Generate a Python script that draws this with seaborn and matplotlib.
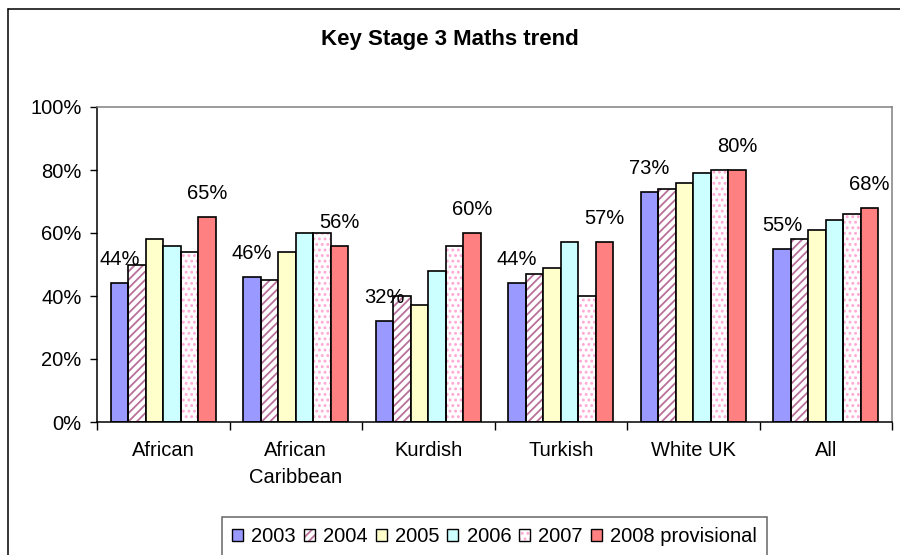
import matplotlib
matplotlib.use("Agg")
import matplotlib.pyplot as plt
from matplotlib.patches import Rectangle, Patch
from matplotlib.lines import Line2D
from matplotlib.legend_handler import HandlerTuple
import seaborn as sns
import pandas as pd

# ---- data ----
groups = ["African", "African\nCaribbean", "Kurdish", "Turkish", "White UK", "All"]
years = ["2003", "2004", "2005", "2006", "2007", "2008 provisional"]
v2003 = [44, 46, 32, 44, 73, 55]
v2004 = [50, 45, 40, 47, 74, 58]
v2005 = [58, 54, 37, 49, 76, 61]
v2006 = [56, 60, 48, 57, 79, 64]
v2007 = [54, 60, 56, 40, 80, 66]
v2008 = [65, 56, 60, 57, 80, 68]
yticks = [0, 20, 40, 60, 80, 100]

series = [v2003, v2004, v2005, v2006, v2007, v2008]
rows = []
for yr, vals in zip(years, series):
    for g, v in zip(groups, vals):
        rows.append({"group": g, "year": yr, "value": v})
df = pd.DataFrame(rows)

colors = ["#9999FF", "#FFFFFF", "#FFFFCC", "#CCFFFF", "#FFFFFF", "#FF8080"]
hatches = {1: ("////", "#B8709A"), 4: ("...", "#FFA8D4")}

sns.set_style("white")
plt.rcParams["font.family"] = ["Liberation Sans", "DejaVu Sans"]
plt.rcParams["hatch.linewidth"] = 1.3
plt.rcParams["text.color"] = "black"
plt.rcParams["xtick.color"] = "black"
plt.rcParams["ytick.color"] = "black"
plt.rcParams["xtick.labelcolor"] = "black"
plt.rcParams["ytick.labelcolor"] = "black"

FS = 14.5

fig = plt.figure(figsize=(9, 5.55), dpi=100)
ax = fig.add_axes([97 / 900, 1 - 422 / 555, (892 - 97) / 900, (422 - 107) / 555])

sns.barplot(data=df, x="group", y="value", hue="year", order=groups,
            hue_order=years, palette=colors, saturation=1, width=0.79,
            edgecolor="black", linewidth=1.2, legend=False, ax=ax)

# patterned fills under the outlined bars
for i, cont in enumerate(ax.containers):
    if i in hatches:
        h, hc = hatches[i]
        for p in cont.patches:
            r = Rectangle(p.get_xy(), p.get_width(), p.get_height(),
                          facecolor="white", edgecolor=hc, hatch=h,
                          linewidth=0, zorder=p.get_zorder() - 0.1)
            ax.add_patch(r)
            p.set_facecolor("none")

# value labels on first and last year
for i in (0, 5):
    cont = ax.containers[i]
    for p, v in zip(cont.patches, series[i]):
        ax.annotate(f"{v}%", (p.get_x() + p.get_width() / 2, v),
                    xytext=(0, 13), textcoords="offset points",
                    ha="center", va="baseline", fontsize=FS, color="black",
                    zorder=5)

ax.set_xlim(-0.5, 5.5)
ax.set_ylim(0, 100)
ax.set_yticks(yticks)
ax.set_yticklabels([f"{t}%" for t in yticks], fontsize=FS)
ax.set_xticks(range(len(groups)))
ax.set_xticklabels(groups, fontsize=FS)
for t in ax.get_xticklabels():
    t.set_linespacing(1.5)
ax.set_xticks([x - 0.5 for x in range(len(groups) + 1)], minor=True)
ax.tick_params(axis="x", which="major", length=0, pad=14, labelcolor="black")
ax.tick_params(axis="x", which="minor", length=6, width=1, color="black",
               direction="out", bottom=True)
ax.tick_params(axis="y", which="major", length=5, width=1, color="black",
               direction="out", left=True, pad=6, labelcolor="black")
ax.set_xlabel("")
ax.set_ylabel("")
ax.grid(False)

for s in ("left", "bottom"):
    ax.spines[s].set_color("black")
    ax.spines[s].set_linewidth(1.1)
for s in ("top", "right"):
    ax.spines[s].set_color("#808080")
    ax.spines[s].set_linewidth(1.1)

fig.text(0.5, 1 - 39 / 555, "Key Stage 3 Maths trend", ha="center",
         va="center", fontsize=16, fontweight="bold", color="black")

# legend
handles = []
for i, c in enumerate(colors):
    if i in hatches:
        h, hc = hatches[i]
        handles.append((Patch(facecolor="white", edgecolor=hc, hatch=h, linewidth=0),
                        Patch(facecolor="none", edgecolor="black", linewidth=1)))
    else:
        handles.append(Patch(facecolor=c, edgecolor="black", linewidth=1))
leg = fig.legend(handles, years, loc="upper center",
                 bbox_to_anchor=(494.5 / 900, 1 - 517 / 555), ncol=6,
                 fontsize=FS, frameon=True, fancybox=False, shadow=False,
                 handlelength=0.55, handleheight=0.55, handletextpad=0.4,
                 columnspacing=0.4, borderpad=0.5, borderaxespad=0,
                 labelcolor="black",
                 handler_map={tuple: HandlerTuple(ndivide=1, pad=0)})
leg.get_frame().set_edgecolor("#404040")
leg.get_frame().set_linewidth(1.1)
leg.get_frame().set_facecolor("white")

# outer chart border
fig.add_artist(Line2D([8 / 900, 8 / 900], [0, 1 - 9 / 555],
                      transform=fig.transFigure, color="black", lw=1.1))
fig.add_artist(Line2D([8 / 900, 1], [1 - 9 / 555, 1 - 9 / 555],
                      transform=fig.transFigure, color="black", lw=1.1))

fig.savefig("out.png", dpi=100)
